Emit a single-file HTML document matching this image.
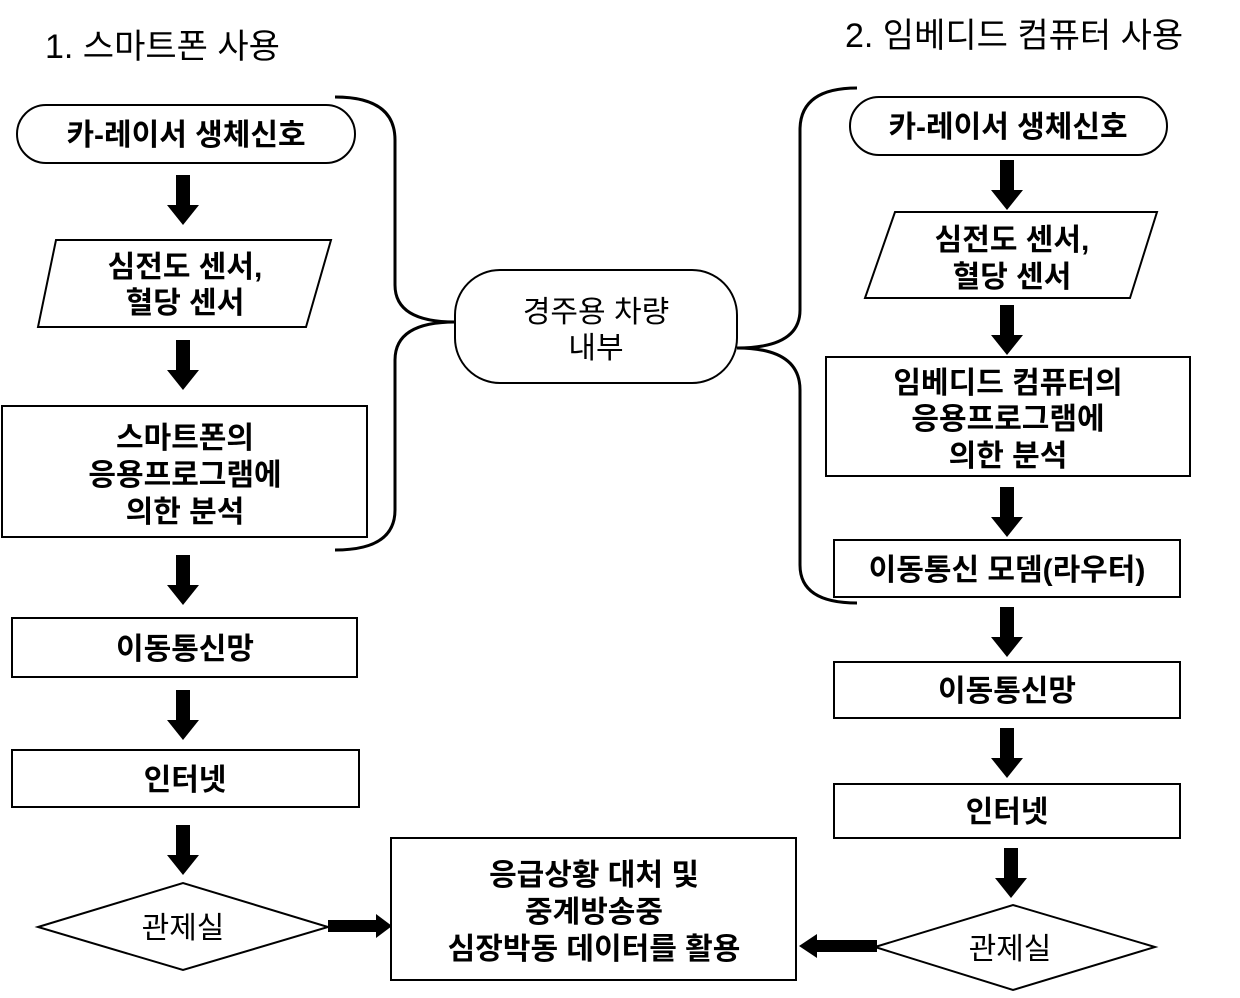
<!DOCTYPE html>
<html><head><meta charset="utf-8"><style>
body{margin:0;background:#fff}
svg text{font-family:"Liberation Sans","Noto Sans CJK KR","NanumGothic",sans-serif}
.b{font-weight:bold;font-size:30px}
.n{font-size:30px}
</style></head><body>
<svg width="1240" height="993" viewBox="0 0 1240 993" xmlns="http://www.w3.org/2000/svg">
<defs>
<g id="ar"><rect x="-7" y="0" width="14" height="32" fill="#000"/><polygon points="-16,30 16,30 0,50" fill="#000"/></g>
</defs>
<g fill="none" stroke="#000" stroke-width="2">
<rect x="17" y="105" width="338" height="58" rx="29"/>
<polygon points="56,240 331,240 306,327 38,327"/>
<rect x="2" y="406" width="365" height="131"/>
<rect x="12" y="618" width="345" height="59"/>
<rect x="12" y="750" width="347" height="57"/>
<polygon points="38,927 183,883 328,927 183,970"/>
<rect x="391" y="838" width="405" height="142"/>
<rect x="455" y="270" width="282" height="113" rx="45"/>
<rect x="850" y="97" width="317" height="58" rx="29"/>
<polygon points="895,212 1157,212 1130,298 865,298"/>
<rect x="826" y="357" width="364" height="119"/>
<rect x="834" y="540" width="346" height="57"/>
<rect x="834" y="662" width="346" height="56"/>
<rect x="834" y="784" width="346" height="54"/>
<polygon points="875,947 1013,905 1155,947 1013,990"/>
<path stroke-width="3" d="M335,97 Q395,97 395,140 L395,285 Q395,322 455,322 Q395,322 395,360 L395,510 Q395,550 335,550"/>
<path stroke-width="3" d="M857,88 Q800,88 800,130 L800,310 Q800,348 737,348 Q800,348 800,390 L800,565 Q800,603 857,603"/>
</g>
<use href="#ar" x="183" y="175"/>
<use href="#ar" x="183" y="340"/>
<use href="#ar" x="183" y="555"/>
<use href="#ar" x="183" y="690"/>
<use href="#ar" x="183" y="825"/>
<use href="#ar" x="1007" y="160"/>
<use href="#ar" x="1007" y="305"/>
<use href="#ar" x="1007" y="487"/>
<use href="#ar" x="1007" y="607"/>
<use href="#ar" x="1007" y="728"/>
<use href="#ar" x="1011" y="848"/>
<rect x="328" y="920" width="50" height="12" fill="#000"/><polygon points="376,914 392,926 376,938" fill="#000"/>
<rect x="815" y="940" width="62" height="12" fill="#000"/><polygon points="817,934 799,946 817,958" fill="#000"/>
<text x="45" y="58" font-size="34">1.  스마트폰 사용</text>
<text x="845" y="47" font-size="34">2. 임베디드 컴퓨터 사용</text>
<g class="b" text-anchor="middle">
<text x="186" y="145">카-레이서 생체신호</text>
<text x="185" y="277">심전도 센서,</text>
<text x="185" y="313">혈당 센서</text>
<text x="185" y="448">스마트폰의</text>
<text x="185" y="485">응용프로그램에</text>
<text x="185" y="522">의한 분석</text>
<text x="185" y="659">이동통신망</text>
<text x="185" y="790">인터넷</text>
<text x="1008" y="137">카-레이서 생체신호</text>
<text x="1012" y="250">심전도 센서,</text>
<text x="1012" y="287">혈당 센서</text>
<text x="1008" y="393">임베디드 컴퓨터의</text>
<text x="1008" y="429">응용프로그램에</text>
<text x="1008" y="466">의한 분석</text>
<text x="1007" y="580">이동통신 모뎀(라우터)</text>
<text x="1007" y="701">이동통신망</text>
<text x="1007" y="822">인터넷</text>
<text x="594" y="885">응급상황 대처 및</text>
<text x="594" y="922">중계방송중</text>
<text x="594" y="959">심장박동 데이터를 활용</text>
</g>
<g class="n" text-anchor="middle">
<text x="596" y="322">경주용 차량</text>
<text x="596" y="358">내부</text>
<text x="183" y="938">관제실</text>
<text x="1010" y="959">관제실</text>
</g>
</svg>
</body></html>
